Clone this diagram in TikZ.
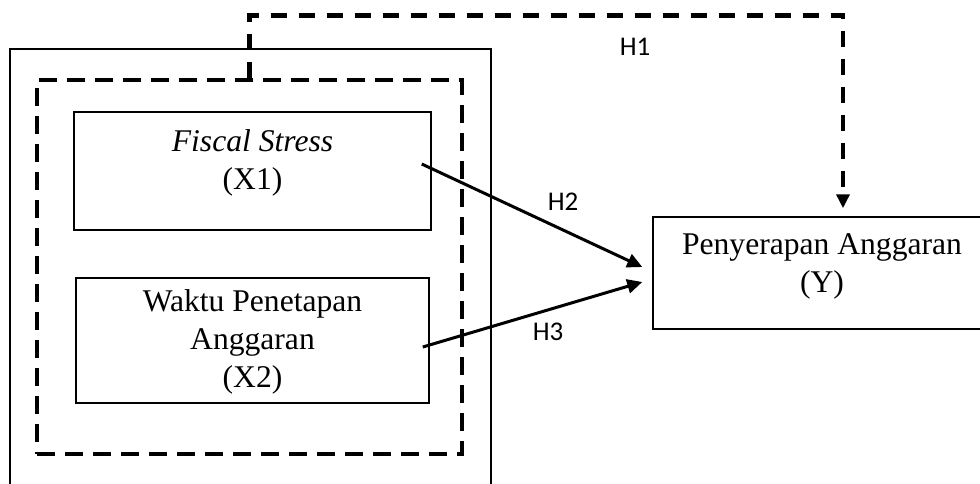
\documentclass[tikz,border=0pt]{standalone}
\usepackage{fontspec}
\setmainfont{Liberation Serif}
\newfontfamily\labelfont{Carlito}
\usetikzlibrary{arrows.meta}
\begin{document}
\begin{tikzpicture}[x=0.5pt,y=-0.5pt,
  varbox/.style={draw, line width=0.75pt, inner sep=0pt},
  vartext/.style={align=center, font=\fontsize{15.8}{19}\selectfont, inner sep=0pt},
  hlabel/.style={font=\labelfont\fontsize{13.5}{16}\selectfont, inner sep=0pt},
  effect/.style={line width=1.5pt, -{Triangle[length=7.5pt,width=7pt]}},
  joint/.style={line width=2.2pt, dash pattern=on 8pt off 6pt, -{Triangle[length=7pt,width=6.5pt]}},
  groupbox/.style={draw, line width=1.6pt, dash pattern=on 9pt off 5pt, inner sep=0pt},
]
\useasboundingbox (0,0) rectangle (980,483);
\clip (0,0) rectangle (980,483);

% frame around the independent variables
\node[varbox, minimum width=240.5pt, minimum height=225.5pt] (outer) at (250.5,274.5) {};
\node[groupbox, minimum width=212.5pt, minimum height=187pt] (group) at (249.5,267) {};

% variable boxes
\node[varbox, minimum width=178.5pt, minimum height=59pt] (x1) at (252.5,171) {};
\node[varbox, minimum width=176.5pt, minimum height=62.5pt] (x2) at (252.5,340.5) {};
\node[varbox, minimum width=169pt, minimum height=56pt] (y) at (822,273) {};

\node[vartext] (x1t) at (252.5,163) {\textit{Fiscal Stress}\\(X1)};
\node[vartext] (x2t) at (252.5,342) {Waktu Penetapan\\Anggaran\\(X2)};
\node[vartext] (yt) at (822,266) {Penyerapan Anggaran\\(Y)};

% hypotheses
\draw[joint] (group.north) -- ++(0,-63) -| ([xshift=10.5pt,yshift=4pt]y.north);
\draw[effect] ([xshift=-5pt,yshift=3.5pt]x1.east) -- ([xshift=-5pt,yshift=3pt]y.west);
\draw[effect] ([xshift=-3.5pt,yshift=-3.25pt]x2.east) -- ([xshift=-5pt,yshift=-4.5pt]y.west);

\node[hlabel] (h1) at (635,47) {H1};
\node[hlabel] (h2) at (563,202) {H2};
\node[hlabel] (h3) at (548,332) {H3};
\end{tikzpicture}
\end{document}
